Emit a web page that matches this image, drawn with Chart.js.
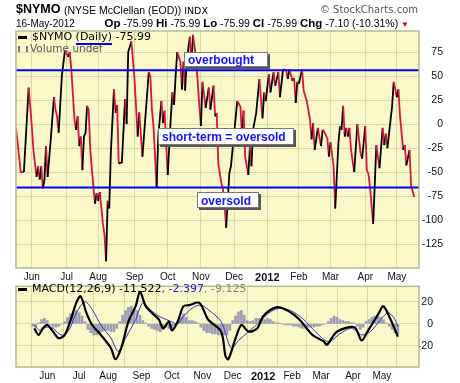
<!DOCTYPE html>
<html>
<head>
<meta charset="utf-8">
<script src="https://cdn.jsdelivr.net/npm/chart.js@4.4.1/dist/chart.umd.min.js"></script>
<style>
  body { margin: 0; background: #fff; width: 460px; height: 383px; overflow: hidden; position: relative;
         font-family: "Liberation Sans", Arial, sans-serif; color: #000; }
  .abs { position: absolute; white-space: nowrap; line-height: 1; }
  canvas { position: absolute; left: 0; }
  #nymoChart { top: 0; }
  #macdChart { top: 280px; }
  .leg { font-family: "DejaVu Sans", Verdana, sans-serif; font-size: 11px; }
  .dash { display: inline-block; width: 9px; height: 3px; background: #000; vertical-align: middle; margin-right: 5px; }
  .tag { position: absolute; background: #fff; border: 1px solid #777; box-shadow: 2px 2px 0 #555;
         color: #1414ff; font-weight: bold; font-size: 12px; line-height: 13px; padding: 1px 0 0 3px; box-sizing: border-box; white-space: nowrap; }
  .hd b { font-size: 11.5px; }
</style>
</head>
<body>
<canvas id="nymoChart" width="443" height="285"></canvas>
<canvas id="macdChart" width="433" height="103"></canvas>

<div class="abs" style="left:16px;top:3px;font-size:12.5px;font-weight:bold;">$NYMO</div>
<div class="abs" style="left:64px;top:5px;font-size:10.5px;">(NYSE McClellan (EOD)) <span style="font-family:'DejaVu Sans';font-size:9.5px;">INDX</span></div>
<div class="abs" style="right:42px;top:5px;font-size:10px;color:#555;font-family:'DejaVu Sans';">© StockCharts.com</div>
<div class="abs hd" style="left:16px;top:19px;font-size:10px;">16-May-2012</div>
<div class="abs hd" style="right:51px;top:18px;font-size:10.5px;"><b>Op</b> -75.99 <b>Hi</b> -75.99 <b>Lo</b> -75.99 <b>Cl</b> -75.99 <b>Chg</b> -7.10 (-10.31%) <span style="color:#cc0000;font-size:8px;">▼</span></div>

<div class="abs leg" style="left:18px;top:31px;"><span class="dash"></span>$NYMO (Daily) -75.99</div>
<div class="abs leg" style="left:18px;top:43px;color:#555;font-size:10.5px;"><span style="display:inline-block;width:10px;height:6px;border-left:2px solid #777;border-right:2px solid #777;box-sizing:border-box;margin-right:2px;"></span>Volume undef</div>
<div class="abs" style="left:76px;top:43px;width:36px;height:2px;background:#0000ff;"></div>
<div class="abs leg" style="left:18px;top:283px;"><span class="dash"></span>MACD(12,26,9) -11.522<span style="color:#2222cc;">, -2.397</span><span style="color:#888;">, -9.125</span></div>

<div class="tag" style="left:184px;top:52px;width:84px;height:15px;">overbought</div>
<div class="tag" style="left:158px;top:128px;width:136px;height:17px;padding-top:2px;">short-term = oversold</div>
<div class="tag" style="left:197px;top:192px;width:62px;height:16px;padding-top:2px;">oversold</div>

<script>
// trading-day index (0 = 17-May-2011) and $NYMO close
const nymoDay = [0,3,5,8,10,11,13,14,15,16,17,18,19,20,22,24,25,26,27,29,31,33,34,35,37,38,39,40,41,42,43,44,45,46,47,49,50,51,52,53,54,55,56,57,58,59,60,62,63,64,65,67,69,70,71,73,75,77,78,80,84,85,86,87,89,90,92,93,94,96,98,99,100,101,102,104,105,106,107,108,110,111,112,114,116,117,118,120,122,123,125,126,127,128,129,130,131,132,133,135,136,140,142,143,144,145,147,148,149,150,152,154,155,156,157,158,160,161,163,164,166,167,169,171,172,173,175,176,177,178,179,181,182,184,186,187,188,189,191,193,194,195,197,198,199,201,202,204,205,206,207,208,209,210,211,212,214,216,218,219,221,222,223,224,226,228,230,232,233,234,235,238,239,241,242,243,245,246,247,249,250,252];
const nymoVal = [-4,-50,-50,38,-2,-27,-55,-44,-58,-44,-67,-58,-23,-55,-16,28,15,8,-9,50,77,70,75,57,5,-6,8,-23,-13,-48,-13,-9,19,15,-27,-66,-83,-72,-80,-71,-87,-104,-115,-143,-80,-88,-30,36,12,20,-41,-40,26,0,75,86,47,-13,12,-34,54,50,15,-2,-66,-13,24,1,14,-53,8,33,20,50,75,65,36,65,35,65,91,61,93,68,19,-2,44,17,38,15,40,8,11,-41,-52,-62,-68,-85,-108,-51,-44,24,18,-13,14,-34,-53,-24,-44,-6,12,47,26,6,33,24,52,33,54,40,54,28,57,56,47,57,45,48,22,44,42,57,35,24,5,-16,1,-27,-4,-23,-6,-8,-15,-34,-19,-45,-88,-20,-2,-6,19,-13,-4,-13,-4,-27,-50,0,-30,-36,-2,-48,-52,-66,-104,-22,-46,-4,-22,-10,-25,19,44,28,36,8,-27,-22,-43,-27,-64,-76];
const levels = [56, -66]; // overbought / oversold

const macdDay = [1,4,7,10,14,18,22,26,30,33,37,41,47,54,57,61,66,71,74,78,83,87,90,94,96,100,104,108,115,121,130,133,135,140,144,149,155,159,168,176,184,193,201,203,210,222,227,231,239,242,247,252];
const macdVal = [-4,-10,-4,-1,-7,-13,-10,3,19,25,10,-1,-10,-22,-32,-22,2,16,29,16,9,4,-4,2,-6,2,16,17,19,4,-7,-29,-32,-13,-1,-7,-4,7,15,12,4,-10,-16,-19,-7,-3,-15,-7,10,16,4,-11.5];
const sigDay = [1,5,9,14,18,22,26,30,36,41,47,54,59,64,71,76,81,87,94,100,104,111,116,121,130,137,142,149,157,163,170,178,187,195,204,212,220,227,233,239,245,249,252];
const sigVal = [-1,-6,-3,-4,-9,-10,-3,10,20,13,-1,-13,-25,-13,4,19,13,7,3,0,7,15,17,13,2,-22,-15,-7,2,10,14,12,4,-7,-16,-9,-4,-10,-7,2,10,6,-2.4];
// histogram, one bar every 2 trading days starting at day 0
const histVal = [-2,-3,1,4,5,3,-1,-3,-3,-2,0,2,6,9,11,12,10,7,2,-5,-8,-10,-10,-9,-7,-6,-6,-7,-7,-4,2,8,12,15,16,14,12,8,3,1,-2,-4,-5,-6,-7,-5,-3,-4,-5,-2,2,6,9,6,3,3,2,1,-3,-6,-8,-8,-9,-9,-10,-10,-10,-10,-6,3,7,11,12,8,3,2,3,5,5,4,4,5,4,2,1,1,0,-1,-1,-1,-2,-2,-3,-4,-4,-3,-3,-3,-2,-2,-1,0,2,5,7,6,4,3,2,2,1,1,-2,-5,-3,2,4,6,7,7,6,4,1,-2,-5,-8,-9];

const monthIdx = [10,32,52,75,96,117,138,159,179,199,221,241];
const monthLbl = ['Jun','Jul','Aug','Sep','Oct','Nov','Dec','2012','Feb','Mar','Apr','May'];
const nymoTicks = [75,50,25,0,-25,-50,-75,-100,-125];
const macdTicks = [20,0,-20];

const BG = '#faf8c9';
const GRID = '#d9dba6';
const FRAME = '#b9b98c';

const plotBg = {
  id: 'plotBg',
  beforeDraw(chart) {
    const { ctx, chartArea: a } = chart;
    ctx.save();
    ctx.fillStyle = BG;
    ctx.fillRect(a.left, a.top, a.width, a.height);
    ctx.restore();
  },
  afterDraw(chart) {
    const { ctx, chartArea: a } = chart;
    ctx.save();
    ctx.strokeStyle = FRAME;
    ctx.lineWidth = 1.5;
    ctx.strokeRect(a.left, a.top, a.width, a.height);
    ctx.restore();
  }
};

function xScale(height) {
  return {
    type: 'linear', min: 0, max: 255,
    grid: { color: GRID, drawTicks: false },
    border: { display: false },
    afterBuildTicks: s => { s.ticks = monthIdx.map(v => ({ value: v })); },
    afterFit: s => { s.height = height; },
    ticks: {
      padding: 3, autoSkip: false, maxRotation: 0, color: '#111',
      callback: (v, i) => monthLbl[i],
      font: ctx => monthLbl[ctx.index] === '2012'
        ? { family: 'Liberation Sans', size: 11, weight: 'bold' }
        : { family: 'Liberation Sans', size: 10 }
    }
  };
}

// right axis, labels right-aligned on the canvas edge
function yScale(min, max, ticks, width) {
  return {
    position: 'right', min: min, max: max,
    grid: { color: GRID, drawTicks: false },
    border: { display: false },
    afterBuildTicks: s => { s.ticks = ticks.map(v => ({ value: v })); },
    afterFit: s => { s.width = width; },
    ticks: { crossAlign: 'far', padding: 0, color: '#111', font: { family: 'Liberation Sans', size: 10.5 } }
  };
}

const pts = (xs, ys) => xs.map((x, i) => ({ x: x, y: ys[i] }));

new Chart(document.getElementById('nymoChart'), {
  type: 'line',
  data: {
    datasets: [
      ...levels.map(v => ({
        data: [{ x: 0, y: v }, { x: 255, y: v }],
        borderColor: '#0000ff', borderWidth: 2, pointRadius: 0, order: 0
      })),
      {
        data: pts(nymoDay, nymoVal),
        borderWidth: 1.8, pointRadius: 0, order: 1,
        borderColor: '#000',
        segment: { borderColor: c => c.p1.parsed.y > c.p0.parsed.y ? '#000' : '#d6163e' }
      }
    ]
  },
  options: {
    responsive: false, animation: false, events: [],
    layout: { padding: { left: 16, top: 31, right: 0, bottom: 0 } },
    plugins: { legend: { display: false }, tooltip: { enabled: false } },
    scales: { x: xScale(17), y: yScale(-150, 97, nymoTicks, 24) }
  },
  plugins: [plotBg]
});

new Chart(document.getElementById('macdChart'), {
  type: 'bar',
  data: {
    datasets: [
      { type: 'line', data: pts(macdDay, macdVal), borderColor: '#000', borderWidth: 2.2, pointRadius: 0, tension: 0.3, order: 0 },
      { type: 'line', data: pts(sigDay, sigVal), borderColor: '#3030d0', borderWidth: 1, pointRadius: 0, tension: 0.3, order: 1 },
      { type: 'bar', data: histVal.map((v, i) => ({ x: i * 2, y: v })), backgroundColor: '#9c9cb4', barThickness: 2, order: 2 }
    ]
  },
  options: {
    responsive: false, animation: false, events: [],
    layout: { padding: { left: 16, top: 3, right: 0, bottom: 0 } },
    plugins: { legend: { display: false }, tooltip: { enabled: false } },
    scales: { x: xScale(16), y: yScale(-39, 34, macdTicks, 14) }
  },
  plugins: [plotBg]
});
</script>
</body>
</html>
